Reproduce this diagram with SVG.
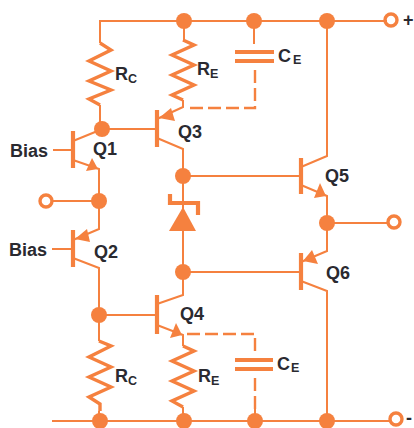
<svg xmlns="http://www.w3.org/2000/svg" width="414" height="428" viewBox="0 0 414 428">
<defs><style>
.w{fill:none;stroke:#f5813f;stroke-width:2;stroke-linejoin:miter}
.r{fill:none;stroke:#f5813f;stroke-width:3.4;stroke-linejoin:miter}
.b{fill:none;stroke:#f5813f;stroke-width:4.2}
.d{fill:none;stroke:#f5813f;stroke-width:2.4;stroke-dasharray:13 5}
.f{fill:#f5813f;stroke:none}
.t{fill:none;stroke:#f5813f;stroke-width:3.4}
text{font-family:"Liberation Sans",Arial,sans-serif;font-weight:bold;fill:#2a2a30;font-size:18px}
.s{font-size:12.5px}
</style></defs>
<rect width="414" height="428" fill="#fff"/>
<g id="connectors">
<path class="w" d="M100 43V21H387M100 105V129M53 150H73M73 141L100 130M73 160L99 169V229L73 240M51 201H99M52 249H73M73 258L99 268V341M99 411V421M52 421H391M102 129H157M157 119L183 107V100M184 21V40M157 138L183 149V272M254 21V44M183 176H301M301 167L327 156V21M301 185L327 196V251L301 262M327 223H389M183 272H301M301 281L327 291V421M99 315H157M157 304L183 295V272M157 325L183 335V346M183 407V421M255 400V421"/>
<path class="d" d="M190 108H255V67"/>
<path class="d" d="M187 334H255V355"/>
<path class="d" d="M255 378V412"/>
</g>
<g id="Rc1"><path class="r" d="M100 43L111 50L89 61L111 71L89 81L111 90L89 99L100 105"/><text x="115" y="80">R</text><text class="s" x="128" y="83">C</text></g>
<g id="Re1"><path class="r" d="M183 40L194 45L172 55L194 65L172 75L194 85L172 95L183 100"/><text x="197" y="75">R</text><text class="s" x="210" y="78">E</text></g>
<g id="Ce1"><path class="b" d="M235 52H274M235 61H274"/><text x="278" y="62">C</text><text class="s" x="293" y="64">E</text></g>
<g id="Q1"><path class="b" d="M73 131V168"/><path class="f" d="M98 169L86 171L92 158Z"/><text x="93" y="155">Q1</text><text x="10" y="157">Bias</text></g>
<g id="Q2"><path class="b" d="M73 230V267"/><path class="f" d="M75 239L87 229L90 242Z"/><text x="94" y="258">Q2</text><text x="9" y="256">Bias</text></g>
<g id="Q3"><path class="b" d="M157 110V147"/><path class="f" d="M159 118L171 108L175 121Z"/><text x="178" y="138">Q3</text></g>
<g id="Q4"><path class="b" d="M157 295V334"/><path class="f" d="M182 335L170 338L176 323Z"/><text x="180" y="320">Q4</text></g>
<g id="Q5"><path class="b" d="M301 158V194"/><path class="f" d="M326 196L314 198L320 183Z"/><text x="325" y="182">Q5</text></g>
<g id="Q6"><path class="b" d="M301 253V290"/><path class="f" d="M303 261L312 250L318 264Z"/><text x="326" y="279">Q6</text></g>
<g id="D"><path class="b" d="M170 194V203H198V215"/><path class="f" d="M183 207L196 231H169Z"/></g>
<g id="Rc2"><path class="r" d="M99 341L111 346L89 357L111 367L89 377L111 387L89 397L100 404V411"/><text x="115" y="382">R</text><text class="s" x="128" y="385">C</text></g>
<g id="Re2"><path class="r" d="M183 346L194 351L172 361L194 371L172 381L194 391L172 401L183 407"/><text x="198" y="382">R</text><text class="s" x="211" y="385">E</text></g>
<g id="Ce2"><path class="b" d="M235 360H273M235 369H273"/><text x="277" y="370">C</text><text class="s" x="291" y="372">E</text></g>
<g id="junctions" class="f">
<circle cx="184" cy="21" r="8"/><circle cx="254" cy="21" r="8"/><circle cx="327" cy="21" r="8"/>
<circle cx="102" cy="129" r="8"/><circle cx="99" cy="201" r="8"/><circle cx="183" cy="176" r="8"/>
<circle cx="327" cy="223" r="8"/><circle cx="183" cy="272" r="8"/><circle cx="99" cy="315" r="8"/>
<circle cx="100" cy="421" r="8"/><circle cx="184" cy="421" r="8"/><circle cx="255" cy="421" r="8"/><circle cx="327" cy="421" r="8"/>
</g>
<g id="terminals">
<circle class="t" cx="391" cy="20" r="6"/><circle class="t" cx="46" cy="201" r="6"/><circle class="t" cx="394" cy="222" r="6"/><circle class="t" cx="396" cy="419" r="6"/>
<text x="403" y="26">+</text><text x="406" y="424">-</text>
</g>
</svg>
